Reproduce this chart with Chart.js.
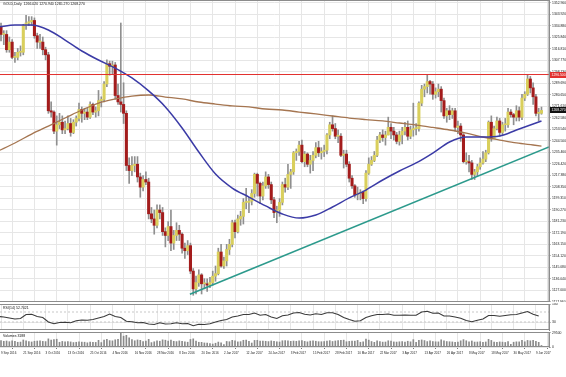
<!DOCTYPE html>
<html><head><meta charset="utf-8">
<script src="https://cdn.jsdelivr.net/npm/chart.js@4.4.0/dist/chart.umd.min.js"></script>
<style>
html,body{margin:0;padding:0;background:#fff;width:566px;height:377px;overflow:hidden;position:relative}
canvas{position:absolute;left:0}
#c1{top:0}#c2{top:303px}#c3{top:331px}
</style></head><body>
<canvas id="c1" width="566" height="302"></canvas>
<canvas id="c2" width="566" height="28"></canvas>
<canvas id="c3" width="566" height="30"></canvas>
<script>
// ---------- DATA ----------
const symbolTitle = 'GOLD,Daily';
const xLabelIdx = [1,9,17,25,33,41,49,57,65,73,81,89,97,105,113,121,129,137,145,153,161,169,177,185,193];
const xLabels = ['9 Sep 2016','21 Sep 2016','3 Oct 2016','13 Oct 2016','25 Oct 2016','4 Nov 2016','16 Nov 2016','28 Nov 2016','8 Dec 2016','20 Dec 2016','2 Jan 2017','12 Jan 2017','24 Jan 2017','3 Feb 2017','15 Feb 2017','28 Feb 2017','10 Mar 2017','22 Mar 2017','3 Apr 2017','13 Apr 2017','26 Apr 2017','8 May 2017','18 May 2017','30 May 2017','9 Jun 2017'];
const yTicks = [1352.960,1343.920,1334.880,1325.840,1316.810,1307.770,1298.730,1289.690,1280.650,1271.610,1262.580,1253.540,1244.500,1235.460,1226.420,1217.380,1208.350,1199.310,1190.270,1181.230,1172.190,1163.150,1154.120,1145.080,1136.040,1127.000,1117.960];

const open = [
1347,1334,1328,1328,1316,1322,1310,1310,1314,1314,1335,1337,1338,1339,1327,1322,1322,
1316,1312,1268,1267,1252,1257,1259,1253,1254,1258,1251,1259,1262,1269,1266,1267,1263,1273,1267,1268,1276,
1277,1289,1305,1303,1304,1280,1275,1273,1266,1225,1221,1225,1226,1216,1208,1214,1212,1187,1183,1178,1190,1188,
1173,1170,1177,1164,1170,1174,1171,1160,1158,1162,1142,1128,1133,1139,1132,1132,1131,1133,1138,1140,1157,
1146,1150,1159,1163,1180,1173,1183,1185,1196,1196,1197,1203,1218,1211,1201,1209,1216,1210,1198,1188,1190,1196,
1210,1208,1218,1220,1235,1236,1241,1228,1234,1226,1229,1233,1239,1235,1236,1237,1249,1257,1254,
1248,1248,1233,1234,1226,1215,1209,1202,1203,1204,1199,1219,1226,1229,1233,1245,1249,1247,1249,1255,1252,1249,1244,
1249,1252,1255,1248,1253,1254,1254,1274,1285,1287,1291,1289,1281,1283,1285,1276,1264,1268,1265,
1268,1255,1256,1249,1228,1228,1227,1218,1220,1224,1227,1230,1235,1259,1246,1254,1260,1251,1257,1257,1267,1265,1263,
1268,1263,1278,1281,1293,1286,1279,1266,1266.02];
const high = [
1352,1337,1331,1331,1326,1324,1314,1317,1319,1336,1343,1342,1342,1341,1329,1328,1326,
1318,1314,1275,1268,1264,1266,1264,1260,1264,1262,1261,1264,1274,1271,1270,1270,1275,1274,1271,1284,1279,
1291,1308,1307,1307,1306,1289,1337,1290,1268,1231,1232,1232,1232,1219,1217,1220,1215,1192,1190,1194,1194,1192,
1176,1181,1190,1174,1180,1178,1172,1164,1166,1164,1144,1138,1143,1140,1136,1136,1137,1142,1146,1160,1163,
1153,1163,1167,1182,1182,1186,1189,1199,1207,1200,1206,1219,1219,1212,1212,1220,1218,1212,1200,1193,1199,1212,
1215,1226,1222,1236,1238,1244,1245,1236,1235,1233,1236,1243,1244,1239,1241,1250,1259,1264,1258,
1253,1250,1237,1237,1228,1217,1210,1208,1206,1205,1221,1231,1232,1236,1248,1251,1253,1252,1263,1258,1255,1251,1252,
1255,1259,1260,1256,1274,1258,1275,1288,1289,1296,1292,1291,1286,1289,1287,1278,1270,1272,1270,
1270,1260,1258,1250,1235,1233,1229,1222,1226,1231,1236,1237,1260,1264,1256,1263,1262,1259,1262,1270,1269,1266,1272,
1271,1281,1283,1296,1295,1290,1281,1270,1270.94];
const low = [
1332,1323,1320,1314,1314,1309,1306,1308,1311,1312,1332,1335,1335,1325,1317,1317,1312,
1308,1266,1263,1250,1241,1254,1250,1250,1253,1248,1250,1256,1260,1259,1261,1261,1262,1265,1263,1264,1271,
1275,1287,1296,1297,1277,1273,1267,1258,1221,1211,1217,1220,1212,1200,1205,1210,1183,1180,1171,1176,1183,1170,
1161,1166,1158,1159,1166,1166,1156,1152,1155,1140,1123,1124,1130,1124,1128,1126,1129,1131,1134,1139,1145,
1144,1146,1155,1161,1168,1172,1178,1179,1191,1188,1194,1200,1201,1195,1198,1207,1207,1195,1184,1180,1185,1194,
1204,1206,1207,1218,1229,1233,1227,1224,1224,1219,1221,1231,1232,1230,1232,1234,1246,1252,1246,
1243,1232,1223,1224,1212,1207,1200,1198,1198,1195,1197,1218,1225,1228,1232,1243,1244,1241,1249,1246,1245,1242,1241,
1242,1249,1245,1246,1248,1249,1252,1272,1279,1282,1281,1277,1278,1279,1267,1262,1259,1261,1262,
1252,1250,1244,1227,1226,1220,1214,1214,1217,1222,1226,1228,1234,1244,1246,1253,1248,1249,1252,1255,1263,1257,1260,
1260,1261,1276,1280,1282,1273,1264,1260,1265.27];
const close = [
1334,1328,1328,1316,1322,1310,1310,1314,1314,1335,1337,1338,1339,1327,1322,1322,1316,
1312,1268,1267,1252,1257,1259,1253,1254,1258,1251,1259,1262,1269,1266,1267,1263,1273,1267,1268,1276,1277,
1289,1305,1303,1304,1280,1275,1273,1266,1225,1221,1225,1226,1216,1208,1214,1212,1187,1183,1178,1190,1188,1173,
1170,1177,1164,1170,1174,1171,1160,1158,1162,1142,1128,1133,1139,1132,1132,1131,1133,1138,1140,1157,1146,
1150,1159,1163,1180,1173,1183,1185,1196,1196,1197,1203,1218,1211,1201,1209,1216,1210,1198,1188,1190,1196,1210,
1208,1218,1220,1235,1236,1241,1228,1234,1226,1229,1233,1239,1235,1236,1237,1249,1257,1254,1248,
1248,1233,1234,1226,1215,1209,1202,1203,1204,1199,1219,1226,1229,1233,1245,1249,1247,1249,1255,1252,1249,1244,1249,
1252,1255,1248,1253,1254,1254,1274,1285,1287,1291,1289,1281,1283,1285,1276,1264,1268,1265,1268,
1255,1256,1249,1228,1228,1227,1218,1220,1224,1227,1230,1235,1259,1246,1254,1260,1251,1257,1257,1267,1265,1263,1268,
1263,1278,1281,1293,1286,1279,1266,1266.5,1268.27];
const volume = [
12000,13500,11800,12400,11000,12800,11500,9800,10200,14500,12600,11000,10400,11900,12300,12800,11600,
11200,16800,14200,15500,16100,9800,11500,10800,11200,10500,9200,9800,10600,10100,9900,8700,10400,9800,9500,13800,9200,
14500,15800,13200,12700,14900,15600,29500,22400,24100,18800,15300,12900,14600,13800,11200,12100,15900,9100,10800,12800,11900,14800,
14100,12300,14400,11800,11200,12600,11900,10800,9900,15600,16900,12100,9800,9600,8400,8200,6900,6100,7800,10200,8600,
5200,11500,10900,13800,12800,10600,11100,13900,14200,11500,8200,13600,13900,12400,12100,11800,11200,12600,11900,10800,10400,12900,
13200,12600,11700,12300,11800,12900,13400,11600,10600,12200,12800,11900,11000,10900,11300,12200,13100,11400,12500,
13100,13800,14200,10900,11600,12400,12100,13600,9800,10700,16400,14200,11300,9600,12500,11400,10100,10300,12900,12100,10500,10200,10800,
11200,10300,11900,10700,15200,9400,13800,14600,13300,11200,12500,11300,10800,10600,14900,12700,11300,10900,10500,
9800,10100,12800,15300,12900,10600,12400,10200,10300,10900,9800,10400,15800,13600,10200,9600,10500,10100,9400,11200,5600,9900,10700,
10600,13900,10800,13600,12800,13900,11800,9700,3188];
// moving averages, one value every 6 bars (bar index in maIdx)
const maIdx = [0,6,12,18,24,30,36,42,48,54,60,66,72,78,84,90,96,102,108,114,120,126,132,138,144,150,156,162,168,174,180,186,192,195];
const maBlue = [1333.9,1335.4,1335.4,1331.5,1323.6,1315.0,1307.9,1301.6,1293.8,1283.6,1271.0,1254.5,1235.6,1218.3,1207.3,1200.2,1193.2,1186.9,1183.7,1186.1,1192.4,1199.5,1205.7,1213.6,1220.7,1227.0,1234.8,1243.5,1247.4,1247.4,1248.2,1252.9,1257.6,1260.0];
const maBrown = [1236.4,1242.7,1249.7,1256.0,1262.3,1268.6,1274.1,1277.3,1279.6,1280.4,1278.8,1277.3,1274.9,1273.3,1271.8,1271.0,1269.4,1268.6,1267.0,1265.5,1263.9,1262.3,1261.1,1260.0,1258.4,1256.8,1254.9,1252.9,1250.5,1247.4,1245.0,1242.7,1241.1,1240.3];
const resistance = 1296.5;
const trendIdx = [68.8, 197.7];
const trendVal = [1123.8, 1239.6];
// RSI(14), one value every 2 bars
const rsi = [52,50,46,42,44,60,61,52,48,30,23,28,29,27,35,38,37,40,46,52,62,52,48,33,31,27,28,22,20,27,22,23,27,23,24,15,21,20,23,30,36,40,50,54,60,60,66,57,60,50,44,55,58,66,68,61,58,63,60,67,67,60,48,40,33,35,48,55,60,60,62,57,57,58,57,57,70,73,65,66,54,54,50,45,36,31,37,42,56,56,53,56,59,60,66,72,61,54];
const rsiLast = 52.7421;
const rsiLevels = [70, 30];
const rsiTicks = [100, 70, 30, 0];
const volTicks = [29500, 0];

// ---------- LAYOUT CONSTANTS ----------
const X_MIN = 0.64, X_MAX = 197.7;
const Y_MIN = 1117.7, Y_MAX = 1355.08;
const FONT = 'Liberation Sans, Arial, sans-serif';
const AXIS_W = 17;
const GRID = '#e6e6e6';
const BULL = '#d9cf5c', BULL_EDGE = '#9c9433', BEAR = '#a31c1c';
const YFONT = 3.4, XFONT = 3.0, TFONT = 3.5;

Chart.defaults.font.family = FONT;
Chart.defaults.animation = false;
Chart.defaults.events = [];
Chart.defaults.plugins.legend.display = false;
Chart.defaults.plugins.tooltip.enabled = false;

function xScale(showLabels){
  return {
    type:'linear', min:X_MIN, max:X_MAX, offset:false,
    afterBuildTicks: s => { s.ticks = xLabelIdx.map(v=>({value:v})); },
    afterFit: s => { s.paddingLeft = 0; s.paddingRight = 0; if (showLabels) s.height = 14; },
    ticks:{ display:showLabels, autoSkip:false, maxRotation:0, minRotation:0, align:'start',
      font:{size:XFONT}, color:'#222', padding:2.5,
      callback:(v,i)=> xLabels[i] },
    grid:{ color:GRID, drawTicks:showLabels, tickLength:2, tickColor:'#777' },
    border:{ display:false }
  };
}
function yRight(min,max,ticks,fmt){
  return {
    position:'right', min, max,
    afterBuildTicks: s => { s.ticks = ticks.map(v=>({value:v})); },
    afterFit: s => { s.width = AXIS_W; s.paddingTop = 0; s.paddingBottom = 0; },
    ticks:{ font:{size:YFONT}, color:'#222', padding:1.5, callback: fmt },
    grid:{ color:GRID, drawTicks:true, tickLength:1.5, tickColor:'#777' },
    border:{ display:true, color:'#8c8c8c' }
  };
}
const framePlugin = {
  id:'frame',
  afterDraw(chart, args, opts){
    const {ctx, chartArea:a} = chart;
    ctx.save(); ctx.strokeStyle = '#8c8c8c'; ctx.lineWidth = 1;
    ctx.strokeRect(Math.round(a.left)-0.5, Math.round(a.top)+0.5, Math.round(a.right-a.left)+0.5, Math.round(a.bottom-a.top)-1);
    if (opts.title){ ctx.fillStyle = '#111'; ctx.font = TFONT+'px '+FONT; ctx.textBaseline='middle'; ctx.fillText(opts.title, a.left+3, a.top+4); }
    ctx.restore();
  }
};
Chart.register(framePlugin);

// ---------- MAIN PRICE PANEL ----------
const wickData = open.map((o,i)=>({x:i, y:[low[i], high[i]]}));
const bodyData = open.map((o,i)=>({x:i, y:[o, close[i]]}));
const bodyFill = open.map((o,i)=> close[i] >= o ? BULL : BEAR);
const bodyEdge = open.map((o,i)=> close[i] >= o ? BULL_EDGE : BEAR);
const last = close.length-1;
const fmt3 = v => Number(v).toFixed(3);

const pricePlugin = {
  id:'priceBoxes',
  afterDraw(chart){
    const {ctx, chartArea:a, scales} = chart;
    const box = (val, bg) => {
      const y = scales.y.getPixelForValue(val);
      ctx.fillStyle = bg; ctx.fillRect(a.right+1, Math.round(y)-3, AXIS_W-1, 6);
      ctx.fillStyle = '#fff'; ctx.font = YFONT+'px '+FONT; ctx.textBaseline = 'middle'; ctx.textAlign='left';
      ctx.fillText(fmt3(val), a.right+2.5, Math.round(y));
    };
    ctx.save();
    box(resistance, '#e2312f');
    box(close[last], '#111');
    ctx.restore();
  }
};

new Chart(document.getElementById('c1'), {
  type:'bar',
  data:{ datasets:[
    { type:'line', data: trendIdx.map((x,i)=>({x, y:trendVal[i]})), borderColor:'#2c9a8c', borderWidth:1.6, pointRadius:0, order:0 },
    { type:'line', data: [{x:X_MIN,y:resistance},{x:X_MAX,y:resistance}], borderColor:'#e2312f', borderWidth:1, pointRadius:0, order:0 },
    { type:'line', data: maIdx.map((x,i)=>({x, y:maBlue[i]})), borderColor:'#3b3ba6', borderWidth:1.5, pointRadius:0, cubicInterpolationMode:'monotone', order:0 },
    { type:'line', data: maIdx.map((x,i)=>({x, y:maBrown[i]})), borderColor:'#a57550', borderWidth:1.3, pointRadius:0, cubicInterpolationMode:'monotone', order:0 },
    { data: bodyData, backgroundColor: bodyFill, borderColor: bodyEdge, borderWidth:0, barThickness:2.4, grouped:false, minBarLength:1, order:1 },
    { data: wickData, backgroundColor:'#8f8f8f', barThickness:1, grouped:false, order:2 }
  ]},
  options:{ responsive:false, layout:{padding:0},
    scales:{ x: xScale(false), y: yRight(Y_MIN, Y_MAX, yTicks, v=>fmt3(v)) },
    plugins:{ frame:{ title: symbolTitle+'  '+[open[last],high[last],low[last],close[last]].map(fmt3).join(' ') } }
  },
  plugins:[pricePlugin]
});

// ---------- RSI PANEL ----------
const RSI_MIN = -2, RSI_MAX = 102;
new Chart(document.getElementById('c2'), {
  type:'line',
  data:{ datasets:[
    { data: rsi.map((v,i)=>({x:i*2, y:v})), borderColor:'#3a3a3a', borderWidth:1.1, pointRadius:0, tension:0 },
    ...rsiLevels.map(l=>({ data:[{x:X_MIN,y:l},{x:X_MAX,y:l}], borderColor:'#c8c8c8', borderWidth:1, borderDash:[2,2], pointRadius:0 }))
  ]},
  options:{ responsive:false, layout:{padding:{top:1,bottom:1}},
    scales:{ x: xScale(false), y: yRight(RSI_MIN, RSI_MAX, rsiTicks, v=>String(v)) },
    plugins:{ frame:{ title:'RSI(14) '+rsiLast.toFixed(4) } }
  }
});

// ---------- VOLUME PANEL ----------
new Chart(document.getElementById('c3'), {
  type:'bar',
  data:{ datasets:[
    { data: volume.map((v,i)=>({x:i, y:v})), backgroundColor:'#8a8a8a', barThickness:1 }
  ]},
  options:{ responsive:false, layout:{padding:{top:1,bottom:0}},
    scales:{ x: xScale(true), y: yRight(0, 31000, volTicks, v=>String(v)) },
    plugins:{ frame:{ title:'Volumes '+volume[last] } }
  }
});
</script>
</body></html>
